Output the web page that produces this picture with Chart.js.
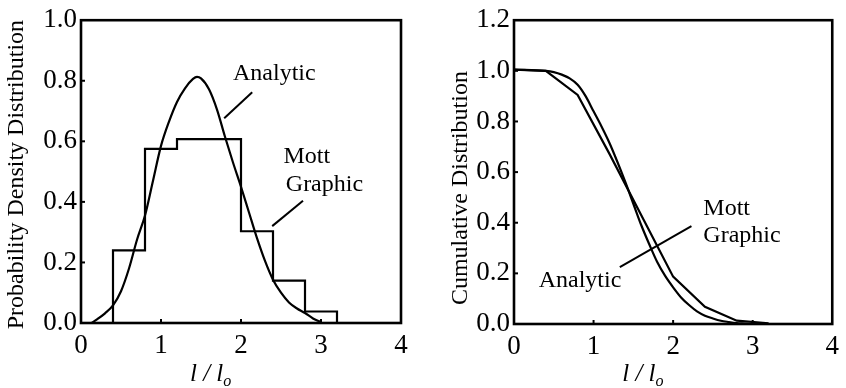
<!DOCTYPE html>
<html>
<head>
<meta charset="utf-8">
<script src="https://cdn.jsdelivr.net/npm/chart.js@4.4.1/dist/chart.umd.min.js"></script>
<style>
  html, body { margin: 0; padding: 0; background: #fff; }
  #wrap { position: relative; width: 846px; height: 388px; overflow: hidden; }
  canvas { position: absolute; top: 0; }
  #c1 { left: 0; }
  #c2 { left: 420px; }
</style>
</head>
<body>
<div id="wrap">
  <canvas id="c1" width="420" height="388"></canvas>
  <canvas id="c2" width="426" height="388"></canvas>
</div>
<script>
// ---------------- DATA ----------------
const xTickValues = [0, 1, 2, 3, 4];
const pdfTickValues = [0, 0.2, 0.4, 0.6, 0.8, 1.0];
const cdfTickValues = [0, 0.2, 0.4, 0.6, 0.8, 1.0, 1.2];

// Mott graphic histogram (bin edges and densities)
const mottEdges   = [0.4, 0.8, 1.2, 2.0, 2.4, 2.8, 3.2];
const mottDensity = [0.24, 0.575, 0.607, 0.303, 0.14, 0.038];

// Analytic probability density
const pdfAnalyticX = [0.13, 0.2, 0.3, 0.4, 0.5, 0.6, 0.7, 0.8, 0.9, 1.0, 1.1, 1.2, 1.3, 1.4, 1.45, 1.5, 1.6, 1.7, 1.8, 1.9, 2.0, 2.1, 2.2, 2.3, 2.4, 2.5, 2.6, 2.7, 2.8, 2.9, 2.99];
const pdfAnalyticY = [0.0, 0.012, 0.032, 0.058, 0.105, 0.18, 0.275, 0.355, 0.47, 0.585, 0.665, 0.73, 0.775, 0.806, 0.813, 0.808, 0.772, 0.705, 0.615, 0.53, 0.45, 0.365, 0.28, 0.205, 0.143, 0.10, 0.068, 0.048, 0.033, 0.015, 0.004];

// Cumulative curves
const cdfMottX = [0, 0.4, 0.8, 1.2, 2.0, 2.4, 2.8, 3.2];
const cdfMottY = [1.005, 1.0, 0.905, 0.672, 0.187, 0.068, 0.013, 0.003];
const cdfAnalyticX = [0, 0.4, 0.5, 0.6, 0.7, 0.8, 0.9, 1.0, 1.1, 1.2, 1.3, 1.4, 1.5, 1.6, 1.7, 1.8, 1.9, 2.0, 2.1, 2.2, 2.3, 2.4, 2.5, 2.6, 2.7, 2.8, 2.9, 3.0];
const cdfAnalyticY = [1.005, 1.0, 0.995, 0.985, 0.97, 0.945, 0.90, 0.84, 0.78, 0.715, 0.64, 0.56, 0.475, 0.39, 0.315, 0.245, 0.19, 0.145, 0.105, 0.075, 0.05, 0.033, 0.022, 0.013, 0.008, 0.004, 0.002, 0.0];

// Text annotations
const pdfNotes = [
  { text: 'Analytic', x: 1.9, y: 0.803 },
  { text: 'Mott', x: 2.53, y: 0.528 },
  { text: 'Graphic', x: 2.56, y: 0.435 }
];
const pdfLeaders = [
  [[2.14, 0.762], [1.79, 0.676]],
  [[2.775, 0.404], [2.39, 0.32]]
];
const cdfNotes = [
  { text: 'Mott', x: 2.38, y: 0.432 },
  { text: 'Graphic', x: 2.38, y: 0.325 },
  { text: 'Analytic', x: 0.31, y: 0.147 }
];
const cdfLeaders = [
  [[2.23, 0.387], [1.33, 0.225]]
];

// ---------------- BUILD ----------------
const FONT = "'Liberation Serif', 'Times New Roman', serif";

function histPoints(edges, dens) {
  const pts = [{ x: edges[0], y: 0 }];
  for (let i = 0; i < dens.length; i++) pts.push({ x: edges[i], y: dens[i] });
  pts.push({ x: edges[edges.length - 1], y: dens[dens.length - 1] });
  pts.push({ x: edges[edges.length - 1], y: 0 });
  return pts;
}
function zip(xs, ys) { return xs.map((x, i) => ({ x, y: ys[i] })); }

const framePlugin = {
  id: 'frame',
  afterDatasetsDraw(chart, args, opts) {
    const { ctx, chartArea: a, scales } = chart;
    ctx.save();
    ctx.strokeStyle = '#000';
    ctx.lineWidth = 2;
    scales.x.ticks.forEach(t => {
      const px = scales.x.getPixelForValue(t.value);
      if (px <= a.left + 2 || px >= a.right - 2) return;
      ctx.beginPath(); ctx.moveTo(px, a.bottom); ctx.lineTo(px, a.bottom - 4); ctx.stroke();
    });
    scales.y.ticks.forEach(t => {
      const py = scales.y.getPixelForValue(t.value);
      if (py <= a.top + 2 || py >= a.bottom - 2) return;
      ctx.beginPath(); ctx.moveTo(a.left, py); ctx.lineTo(a.left + 4, py); ctx.stroke();
    });
    ctx.lineWidth = 2.6;
    ctx.strokeRect(a.left, a.top, a.right - a.left, a.bottom - a.top);
    ctx.fillStyle = '#000';
    ctx.font = '24px ' + FONT;
    ctx.textAlign = 'left';
    ctx.textBaseline = 'alphabetic';
    (opts.notes || []).forEach(n => {
      ctx.fillText(n.text, scales.x.getPixelForValue(n.x), scales.y.getPixelForValue(n.y));
    });
    ctx.lineWidth = 2;
    (opts.leaders || []).forEach(l => {
      ctx.beginPath();
      ctx.moveTo(scales.x.getPixelForValue(l[0][0]), scales.y.getPixelForValue(l[0][1]));
      ctx.lineTo(scales.x.getPixelForValue(l[1][0]), scales.y.getPixelForValue(l[1][1]));
      ctx.stroke();
    });
    ctx.save();
    ctx.translate(opts.yTitleX, (a.top + a.bottom) / 2 + opts.yTitleDy);
    ctx.rotate(-Math.PI / 2);
    ctx.textAlign = 'center';
    ctx.textBaseline = 'middle';
    ctx.font = '24px ' + FONT;
    ctx.fillText(opts.yTitle, 0, 0);
    ctx.restore();
    const cx = scales.x.getPixelForValue(opts.xTitleAt);
    const base = opts.xTitleBase;
    ctx.textBaseline = 'alphabetic';
    const main = 'l / l';
    ctx.font = 'italic 25px ' + FONT;
    const w1 = ctx.measureText(main).width;
    ctx.font = 'italic 16px ' + FONT;
    const w2 = ctx.measureText('o').width;
    const sx = cx - (w1 + w2) / 2;
    ctx.font = 'italic 25px ' + FONT;
    ctx.textAlign = 'left';
    ctx.fillText(main, sx, base);
    ctx.font = 'italic 16px ' + FONT;
    ctx.fillText('o', sx + w1, base + 5);
    ctx.restore();
  }
};

function makeChart(id, datasets, yMax, yTicks, padding, yWidth, xHeight, frameOpts) {
  return new Chart(document.getElementById(id), {
    type: 'scatter',
    data: { datasets },
    options: {
      responsive: false,
      animation: false,
      events: [],
      layout: { padding },
      plugins: { legend: { display: false }, tooltip: { enabled: false }, frame: frameOpts },
      elements: { point: { radius: 0 } },
      scales: {
        x: {
          type: 'linear', min: 0, max: 4,
          grid: { display: false, drawTicks: false },
          border: { display: false },
          afterBuildTicks: s => { s.ticks = xTickValues.map(v => ({ value: v })); },
          afterFit: s => { s.height = xHeight; },
          ticks: { color: '#000', font: { family: FONT, size: 27 }, padding: 7, maxRotation: 0,
                   callback: v => String(v) }
        },
        y: {
          type: 'linear', min: 0, max: yMax,
          grid: { display: false, drawTicks: false },
          border: { display: false },
          afterBuildTicks: s => { s.ticks = yTicks.map(v => ({ value: v })); },
          afterFit: s => { s.width = yWidth; },
          ticks: { color: '#000', font: { family: FONT, size: 27 }, padding: 4,
                   callback: v => Number(v).toFixed(1) }
        }
      }
    },
    plugins: [framePlugin]
  });
}

const lineStyle = { showLine: true, borderColor: '#000', borderWidth: 2.2, pointRadius: 0, fill: false };

makeChart('c1', [
  Object.assign({ data: histPoints(mottEdges, mottDensity), stepped: 'before' }, lineStyle),
  Object.assign({ data: zip(pdfAnalyticX, pdfAnalyticY), cubicInterpolationMode: 'monotone' }, lineStyle)
], 1.0, pdfTickValues, { top: 11, right: 19, left: 0, bottom: 0 }, 81, 65,
{ notes: pdfNotes, leaders: pdfLeaders, yTitle: 'Probability Density Distribution', yTitleX: 17, yTitleDy: 3,
  xTitleAt: 1.62, xTitleBase: 381 });

makeChart('c2', [
  Object.assign({ data: zip(cdfMottX, cdfMottY) }, lineStyle),
  Object.assign({ data: zip(cdfAnalyticX, cdfAnalyticY), cubicInterpolationMode: 'monotone' }, lineStyle)
], 1.2, cdfTickValues, { top: 14, right: 7, left: 0, bottom: 0 }, 94, 64,
{ notes: cdfNotes, leaders: cdfLeaders, yTitle: 'Cumulative Distribution', yTitleX: 41, yTitleDy: 16,
  xTitleAt: 1.62, xTitleBase: 381 });
</script>
</body>
</html>
